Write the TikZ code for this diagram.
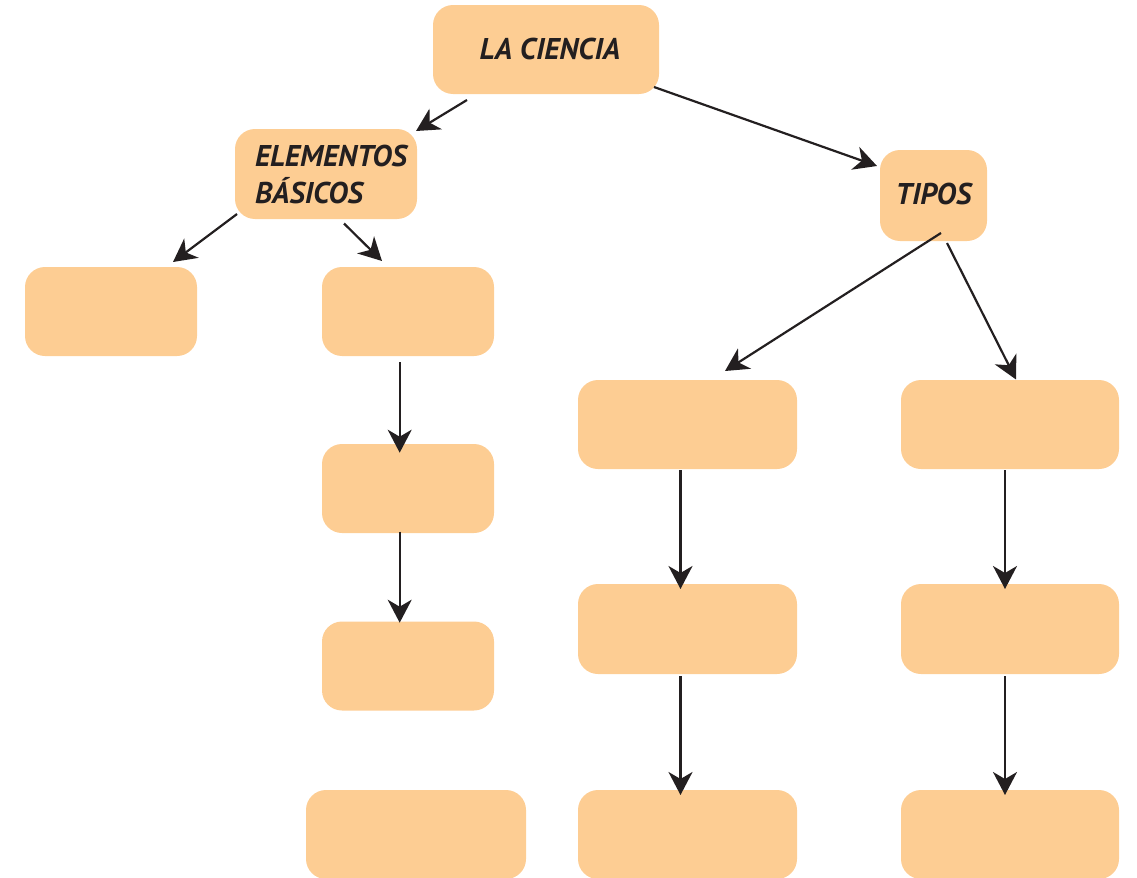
\documentclass[tikz,border=0pt]{standalone}
\usepackage{fontspec}
\setsansfont{PT Sans}
\usetikzlibrary{arrows.meta}
\definecolor{naranja}{HTML}{FDCD93}
\definecolor{tinta}{HTML}{231F20}
\begin{document}
\begin{tikzpicture}[x=0.5pt,y=-0.5pt,
    caja/.style={fill=naranja, rounded corners=10pt, inner sep=0pt, outer sep=0pt,
      text=tinta, font=\sffamily\bfseries\itshape\fontsize{15}{18.5}\selectfont},
    flecha/.style={draw=tinta, line width=1.1pt, -{Stealth[length=11.5pt,width=12pt,inset=3.5pt]}}]
      \useasboundingbox (0,0) rectangle (1137,878);
      % cajas con texto
      \node[caja, minimum width=113pt, minimum height=44.5pt] (ciencia) at (546,49.5) {\kern4pt LA CIENCIA};
      \node[caja, minimum width=91pt, minimum height=45pt, align=left] (elementos) at (326,174) {\hspace*{5pt}ELEMENTOS\\\hspace*{5pt}BÁSICOS};
      \node[caja, minimum width=53.5pt, minimum height=45.5pt] (tipos) at (933.5,195.5) {\raisebox{1.5pt}{TIPOS}};
      % cajas vacias
      \node[caja, minimum width=86pt, minimum height=44.5pt] (a1) at (111,311.5) {};
      \node[caja, minimum width=86pt, minimum height=44.5pt] (b1) at (408,311.5) {};
      \node[caja, minimum width=86pt, minimum height=44.5pt] (b2) at (408,488.5) {};
      \node[caja, minimum width=86pt, minimum height=44.5pt] (b3) at (408,666) {};
      \node[caja, minimum width=110pt, minimum height=44.5pt] (b4) at (416,834.5) {};
      \node[caja, minimum width=109.5pt, minimum height=44.5pt] (c1) at (687.5,424.5) {};
      \node[caja, minimum width=109.5pt, minimum height=45pt] (c2) at (687.5,629) {};
      \node[caja, minimum width=109.5pt, minimum height=44.5pt] (c3) at (687.5,834.5) {};
      \node[caja, minimum width=109pt, minimum height=44.5pt] (d1) at (1010,424.5) {};
      \node[caja, minimum width=109pt, minimum height=45pt] (d2) at (1010,629) {};
      \node[caja, minimum width=109pt, minimum height=44.5pt] (d3) at (1010,834.5) {};
      % flechas
      \draw[flecha] ([shift={(34,6)}]ciencia.south west) -- ([shift={(-1,2)}]elementos.north east);
      \draw[flecha] ([shift={(-5,-7)}]ciencia.south east) -- ([shift={(-3,16)}]tipos.north west);
      \draw[flecha] ([shift={(2,-5)}]elementos.south west) -- ([shift={(-24,-5)}]a1.north east);
      \draw[flecha] ([shift={(18,4.5)}]elementos.south) -- ([shift={(-26,-6)}]b1.north);
      \draw[flecha] ([shift={(7.5,-8)}]tipos.south) -- ([shift={(37.5,-9)}]c1.north);
      \draw[flecha] ([shift={(13.5,2)}]tipos.south) -- ([shift={(6,-0.5)}]d1.north);
      \draw[flecha] ([shift={(-8.3,6)}]b1.south) -- ([shift={(-8.3,8.7)}]b2.north);
      \draw[flecha] ([shift={(-8.3,-1.3)}]b2.south) -- ([shift={(-8.3,1.2)}]b3.north);
      \draw[flecha] ([shift={(-7,1)}]c1.south) -- ([shift={(-7,5)}]c2.north);
      \draw[flecha] ([shift={(-7,2)}]c2.south) -- ([shift={(-7,5)}]c3.north);
      \draw[flecha] ([shift={(-5,1)}]d1.south) -- ([shift={(-5,5)}]d2.north);
      \draw[flecha] ([shift={(-5,2)}]d2.south) -- ([shift={(-5,5)}]d3.north);
\end{tikzpicture}
\end{document}
